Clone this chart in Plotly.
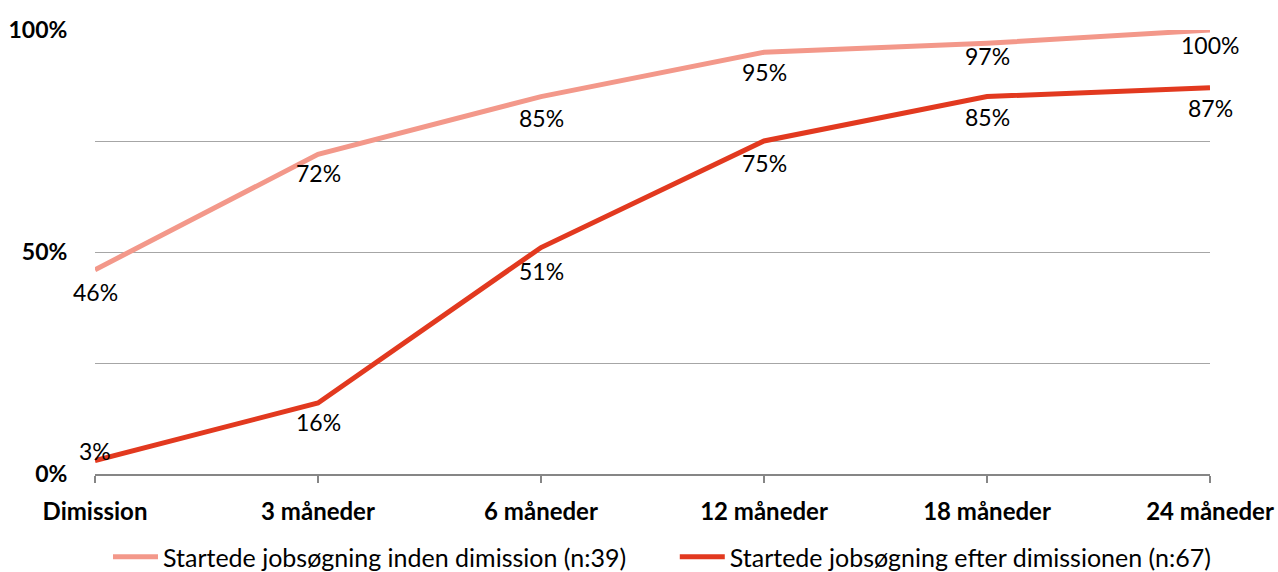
import plotly.graph_objects as go

# Job search timing by period after graduation
periods = ["Dimission", "3 måneder", "6 måneder", "12 måneder", "18 måneder", "24 måneder"]
before_grad = [46, 72, 85, 95, 97, 100]
after_grad = [3, 16, 51, 75, 85, 87]
name_before = "Startede jobsøgning inden dimission (n:39)"
name_after = "Startede jobsøgning efter dimissionen (n:67)"

y_ticks = [0, 25, 50, 75, 100]
y_ticktext = ["0%", "", "50%", "", "100%"]

FONT = "Lato, 'Liberation Sans', sans-serif"
LIGHT = "#F3988A"
DARK = "#E2391F"
SIZE = 23

xpos = list(range(len(periods)))

# vertical distance (px) of each value label's centre from its point; negative = above
before_label_gap = [22, 19, 21, 20, 13, 15]
after_label_gap = [-10, 19, 23, 22, 20, 20]

fig = go.Figure()
fig.add_trace(go.Scatter(
    x=xpos, y=before_grad, name=name_before, mode="lines",
    line=dict(color=LIGHT, width=5), cliponaxis=False, legend="legend",
))
fig.add_trace(go.Scatter(
    x=xpos, y=after_grad, name=name_after, mode="lines",
    line=dict(color=DARK, width=5), cliponaxis=False, legend="legend2",
))

for values, gaps in ((before_grad, before_label_gap), (after_grad, after_label_gap)):
    for xi, v, g in zip(xpos, values, gaps):
        fig.add_annotation(
            x=xi, y=v, text=f"{v}%", showarrow=False,
            xanchor="center", yanchor="middle", yshift=-g,
            font=dict(family=FONT, size=SIZE, color="#000000"),
        )

legend_style = dict(
    orientation="h", xref="container", xanchor="left",
    y=-0.187, yanchor="middle",
    font=dict(family=FONT, size=25, color="#000000"),
    itemwidth=45,
)

fig.update_layout(
    width=1278, height=572,
    margin=dict(l=95, r=68, t=30, b=98, autoexpand=False),
    paper_bgcolor="white", plot_bgcolor="white",
    font=dict(family=FONT, size=SIZE, color="#000000"),
    showlegend=True,
    legend=dict(x=0.0845, **legend_style),
    legend2=dict(x=0.528, **legend_style),
    xaxis=dict(
        range=[0, len(periods) - 1],
        tickvals=xpos, ticktext=periods,
        showgrid=False, zeroline=False,
        showline=True, linecolor="#868686", linewidth=1.5,
        ticks="outside", ticklen=7, tickcolor="#868686", tickwidth=1.5,
        ticklabelstandoff=8,
        tickfont=dict(family=FONT, size=24, color="#000000", weight="bold"),
    ),
    yaxis=dict(
        range=[0, 100],
        tickvals=y_ticks, ticktext=y_ticktext,
        showgrid=True, gridcolor="#A6A6A6", gridwidth=1.3,
        zeroline=False, showline=False,
        ticks="outside", ticklen=22, tickcolor="rgba(0,0,0,0)",
        tickfont=dict(family=FONT, size=23, color="#000000", weight="bold"),
    ),
)

fig.write_html("out.html")
